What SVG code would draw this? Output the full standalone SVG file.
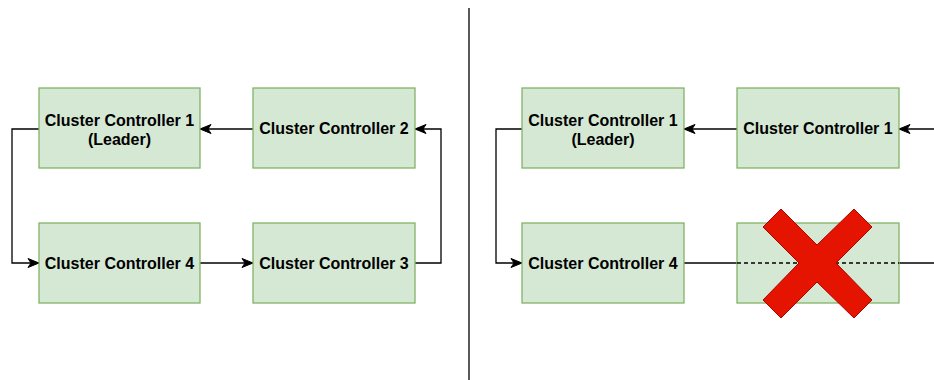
<svg xmlns="http://www.w3.org/2000/svg" width="934" height="380" viewBox="0 0 934 380">
<style>
.box{fill:#d5e8d4;stroke:#82b366;stroke-width:1.3}
.lbl{font-family:"Liberation Sans",Arial,sans-serif;font-weight:bold;font-size:16px;fill:#000;text-anchor:middle}
.ln{fill:none;stroke:#000;stroke-width:1.3}
.dash{fill:none;stroke:#000;stroke-width:1.3;stroke-dasharray:4 3}
</style>
<defs>
<marker id="arr" markerUnits="userSpaceOnUse" markerWidth="13" markerHeight="11" refX="12" refY="5.5" orient="auto" overflow="visible">
<path d="M1,1 L12,5.5 L1,10 L4,5.5 Z" fill="#000" stroke="#000" stroke-width="1"/>
</marker>
</defs>
<rect width="934" height="380" fill="#fff"/>
<g id="connectors">
<path class="ln" d="M39,129 H12 V263 H39" marker-end="url(#arr)"/>
<path class="ln" d="M200,263 H253" marker-end="url(#arr)"/>
<path class="ln" d="M415,263 H441 V129 H415" marker-end="url(#arr)"/>
<path class="ln" d="M253,129 H200" marker-end="url(#arr)"/>
<path class="ln" d="M469,8 V380"/>
<path class="ln" d="M522,129 H496 V263 H522" marker-end="url(#arr)"/>
<path class="ln" d="M737,129 H684" marker-end="url(#arr)"/>
<path class="ln" d="M934,129 H899" marker-end="url(#arr)"/>
<path class="ln" d="M684,263 H737"/>
<path class="ln" d="M899,263 H934"/>
</g>
<g id="n1"><rect class="box" x="39" y="88" width="161" height="80"/><text class="lbl" x="119.5" y="126">Cluster Controller 1</text><text class="lbl" x="119.5" y="145">(Leader)</text></g>
<g id="n2"><rect class="box" x="253" y="88" width="162" height="80"/><text class="lbl" x="334" y="134">Cluster Controller 2</text></g>
<g id="n4"><rect class="box" x="39" y="223" width="161" height="80"/><text class="lbl" x="119.5" y="269">Cluster Controller 4</text></g>
<g id="n3"><rect class="box" x="253" y="223" width="162" height="80"/><text class="lbl" x="334" y="269">Cluster Controller 3</text></g>
<g id="r1"><rect class="box" x="522" y="88" width="162" height="80"/><text class="lbl" x="603" y="126">Cluster Controller 1</text><text class="lbl" x="603" y="145">(Leader)</text></g>
<g id="r2"><rect class="box" x="737" y="88" width="162" height="80"/><text class="lbl" x="818" y="134">Cluster Controller 1</text></g>
<g id="r4"><rect class="box" x="522" y="223" width="162" height="80"/><text class="lbl" x="603" y="269">Cluster Controller 4</text></g>
<g id="r3"><rect class="box" x="737" y="223" width="162" height="80"/><path class="dash" d="M737,263 H899"/></g>
<g id="cross"><polygon points="763,227 781,209 817,245 854,209 872,227 836,263 872,300 854,318 817,282 781,318 763,300 799,263" fill="#e51400" stroke="#b20000" stroke-width="1"/></g>
</svg>
